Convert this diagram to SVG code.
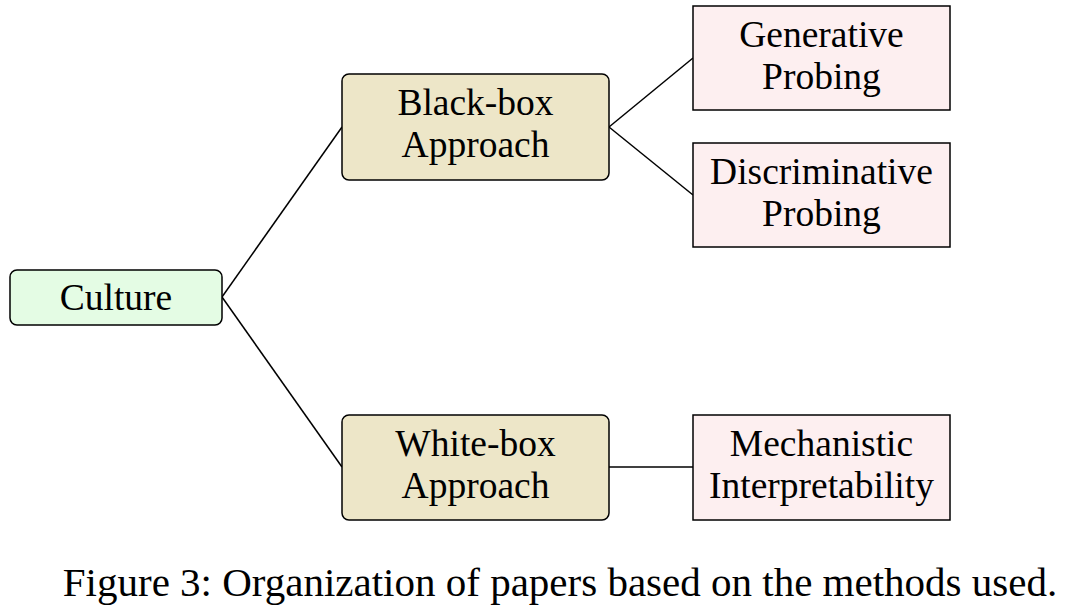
<svg xmlns="http://www.w3.org/2000/svg" width="1072" height="612" viewBox="0 0 1072 612">
<style>
text{font-family:"Liberation Serif","Times New Roman",serif;font-size:37.5px;fill:#000;text-anchor:middle}
.root{fill:#e4fce4;stroke:#000;stroke-width:1.5}
.mid{fill:#ede6c8;stroke:#000;stroke-width:1.5}
.leaf{fill:#fdeff0;stroke:#000;stroke-width:1.5}
.edge{stroke:#000;stroke-width:1.5;fill:none}
</style>
<rect width="1072" height="612" fill="#fff"/>
<g id="connectors">
<line class="edge" x1="222" y1="297" x2="342" y2="127"/>
<line class="edge" x1="222" y1="297" x2="342" y2="467"/>
<line class="edge" x1="609" y1="127" x2="693" y2="58"/>
<line class="edge" x1="609" y1="127" x2="693" y2="195"/>
<line class="edge" x1="609" y1="467" x2="693" y2="467"/>
</g>
<g id="culture">
<rect class="root" x="10" y="270" width="212" height="55" rx="7"/>
<text x="116" y="310">Culture</text>
</g>
<g id="blackbox">
<rect class="mid" x="342" y="74" width="267" height="106" rx="7"/>
<text x="475.5" y="115">Black-box</text>
<text x="475.5" y="157">Approach</text>
</g>
<g id="whitebox">
<rect class="mid" x="342" y="415" width="267" height="105" rx="7"/>
<text x="475.5" y="456">White-box</text>
<text x="475.5" y="498">Approach</text>
</g>
<g id="generative">
<rect class="leaf" x="693" y="6" width="257" height="104"/>
<text x="821.5" y="47">Generative</text>
<text x="821.5" y="89">Probing</text>
</g>
<g id="discriminative">
<rect class="leaf" x="693" y="143" width="257" height="104"/>
<text x="821.5" y="184">Discriminative</text>
<text x="821.5" y="226">Probing</text>
</g>
<g id="mechanistic">
<rect class="leaf" x="693" y="415" width="257" height="105"/>
<text x="821.5" y="456">Mechanistic</text>
<text x="821.5" y="498">Interpretability</text>
</g>
<text x="560" y="596" style="font-size:41px">Figure 3: Organization of papers based on the methods used.</text>
</svg>
